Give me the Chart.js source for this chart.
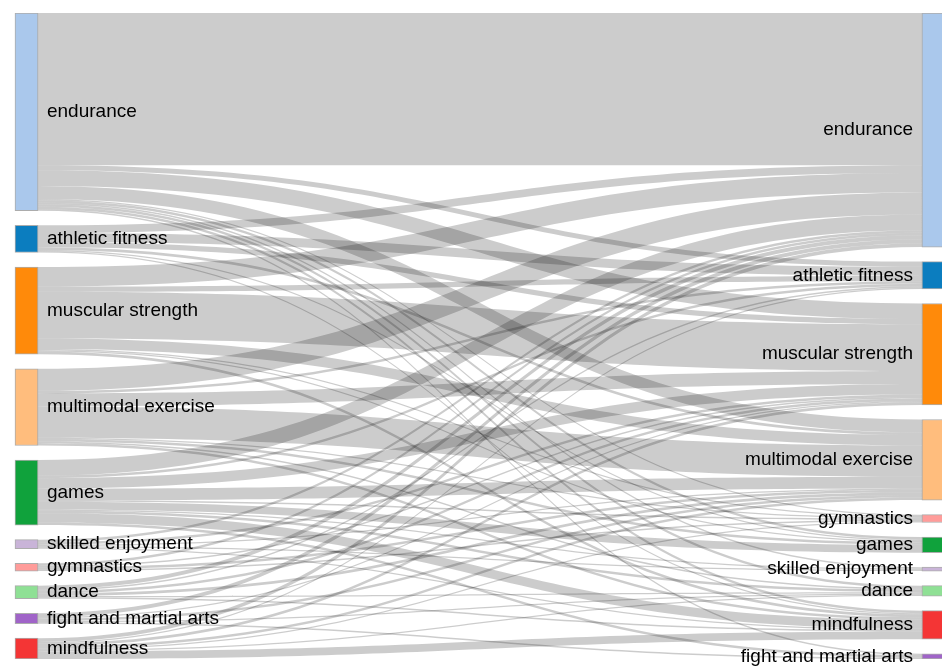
<!DOCTYPE html>
<html>
<head>
<meta charset="utf-8">
<script src="https://cdn.jsdelivr.net/npm/chart.js@4.4.1/dist/chart.umd.min.js"></script>
<style>
  html, body { margin: 0; padding: 0; background: #fff; }
  #wrap { width: 942px; height: 669px; }
</style>
</head>
<body>
<div id="wrap"><canvas id="sankey"></canvas></div>
<script>
// node names, top to bottom
var sourceNodes = ["endurance", "athletic fitness", "muscular strength", "multimodal exercise", "games",
  "skilled enjoyment", "gymnastics", "dance", "fight and martial arts", "mindfulness"];
var targetNodes = ["endurance", "athletic fitness", "muscular strength", "multimodal exercise", "gymnastics",
  "games", "skilled enjoyment", "dance", "mindfulness", "fight and martial arts"];

// flows out of each source node, in targetNodes order
var fromEndurance   = [117, 4, 12, 10, 1, 2, 1, 2, 2, 1];
var fromAthletic    = [  6, 7,  4,  2, 0, 1, 0, 0, 1, 0];
var fromMuscular    = [ 15, 4, 36,  8, 1, 1, 0, 0, 2, 0];
var fromMultimodal  = [ 17, 2, 10, 24, 1, 2, 0, 1, 2, 0];
var fromGames       = [ 12, 2,  8,  9, 1, 6, 1, 2, 7, 2];
var fromSkilled     = [  2, 0,  2,  1, 0, 0, 1, 0, 1, 0];
var fromGymnastics  = [  2, 0,  1,  2, 1, 0, 0, 0, 0, 0];
var fromDance       = [  3, 1,  2,  2, 0, 0, 0, 1, 1, 0];
var fromFight       = [  3, 0,  1,  2, 0, 0, 0, 1, 0, 1];
var fromMindfulness = [  3, 1,  2,  2, 1, 0, 0, 1, 6, 0];

var flows = [fromEndurance, fromAthletic, fromMuscular, fromMultimodal, fromGames,
  fromSkilled, fromGymnastics, fromDance, fromFight, fromMindfulness];

var nodeColors = {
  "endurance": "#aac8ec",
  "athletic fitness": "#0b7dbf",
  "muscular strength": "#ff8a0a",
  "multimodal exercise": "#ffbd7d",
  "games": "#10a23c",
  "skilled enjoyment": "#c9b4d8",
  "gymnastics": "#ff9c9a",
  "dance": "#8fe095",
  "fight and martial arts": "#a064c8",
  "mindfulness": "#f43535"
};

var gap = 11.2;      // space between nodes, in flow units
var nodeWidth = 23;  // px

// node totals and stacked positions
var srcTotals = flows.map(function (row) { return row.reduce(function (a, b) { return a + b; }, 0); });
var tgtTotals = targetNodes.map(function (_, j) { return flows.reduce(function (a, row) { return a + row[j]; }, 0); });

function stack(totals) {
  var y = 0, out = [];
  totals.forEach(function (t) { out.push([y, y + t]); y += t + gap; });
  return out;
}
var srcPos = stack(srcTotals);
var tgtPos = stack(tgtTotals);
var yMax = Math.max(srcPos[srcPos.length - 1][1], tgtPos[tgtPos.length - 1][1]);

var leftBars = srcPos.map(function (p) { return { x: 0, y: p }; });
var rightBars = tgtPos.map(function (p) { return { x: 1, y: p }; });

var linkPlugin = {
  id: "links",
  beforeDatasetsDraw: function (chart) {
    var c = chart.ctx, xs = chart.scales.x, ys = chart.scales.y;
    var x0 = xs.getPixelForValue(0) + nodeWidth / 2;
    var x1 = xs.getPixelForValue(1) - nodeWidth / 2;
    var xm = (x0 + x1) / 2;
    var tgtOff = tgtPos.map(function (p) { return p[0]; });
    c.save();
    c.fillStyle = "rgba(0,0,0,0.2)";
    flows.forEach(function (row, i) {
      var sOff = srcPos[i][0];
      row.forEach(function (v, j) {
        if (!v) return;
        var a0 = ys.getPixelForValue(sOff), a1 = ys.getPixelForValue(sOff + v);
        var b0 = ys.getPixelForValue(tgtOff[j]), b1 = ys.getPixelForValue(tgtOff[j] + v);
        c.beginPath();
        c.moveTo(x0, a0);
        c.bezierCurveTo(xm, a0, xm, b0, x1, b0);
        c.lineTo(x1, b1);
        c.bezierCurveTo(xm, b1, xm, a1, x0, a1);
        c.closePath();
        c.fill();
        sOff += v;
        tgtOff[j] += v;
      });
    });
    c.restore();
  },
  afterDatasetsDraw: function (chart) {
    var c = chart.ctx, xs = chart.scales.x, ys = chart.scales.y;
    var x0 = xs.getPixelForValue(0) + nodeWidth / 2;
    var x1 = xs.getPixelForValue(1) - nodeWidth / 2;
    c.save();
    c.font = "19px 'Liberation Sans', Arial, sans-serif";
    c.fillStyle = "#000";
    c.textBaseline = "middle";
    c.textAlign = "left";
    sourceNodes.forEach(function (name, i) {
      c.fillText(name, x0 + 9, ys.getPixelForValue((srcPos[i][0] + srcPos[i][1]) / 2));
    });
    c.textAlign = "right";
    targetNodes.forEach(function (name, j) {
      c.fillText(name, x1 - 9, ys.getPixelForValue((tgtPos[j][0] + tgtPos[j][1]) / 2));
    });
    c.restore();
  }
};

var ctx = document.getElementById("sankey").getContext("2d");
var chart = new Chart(ctx, {
  type: "bar",
  data: {
    datasets: [
      {
        label: "from",
        data: leftBars,
        backgroundColor: sourceNodes.map(function (n) { return nodeColors[n]; }),
        borderColor: "rgba(70,70,70,0.45)",
        borderWidth: 1,
        borderSkipped: false,
        barThickness: nodeWidth,
        grouped: false
      },
      {
        label: "to",
        data: rightBars,
        backgroundColor: targetNodes.map(function (n) { return nodeColors[n]; }),
        borderColor: "rgba(70,70,70,0.45)",
        borderWidth: 1,
        borderSkipped: false,
        barThickness: nodeWidth,
        grouped: false
      }
    ]
  },
  options: {
    responsive: true,
    maintainAspectRatio: false,
    animation: false,
    layout: { padding: { top: 13, bottom: 10, left: 0, right: 0 } },
    scales: {
      x: { type: "linear", offset: false, min: -0.0292, max: 1.0094, display: false },
      y: { type: "linear", reverse: true, min: 0, max: yMax, display: false }
    },
    plugins: {
      legend: { display: false },
      tooltip: { enabled: false }
    }
  },
  plugins: [linkPlugin]
});
</script>
</body>
</html>
